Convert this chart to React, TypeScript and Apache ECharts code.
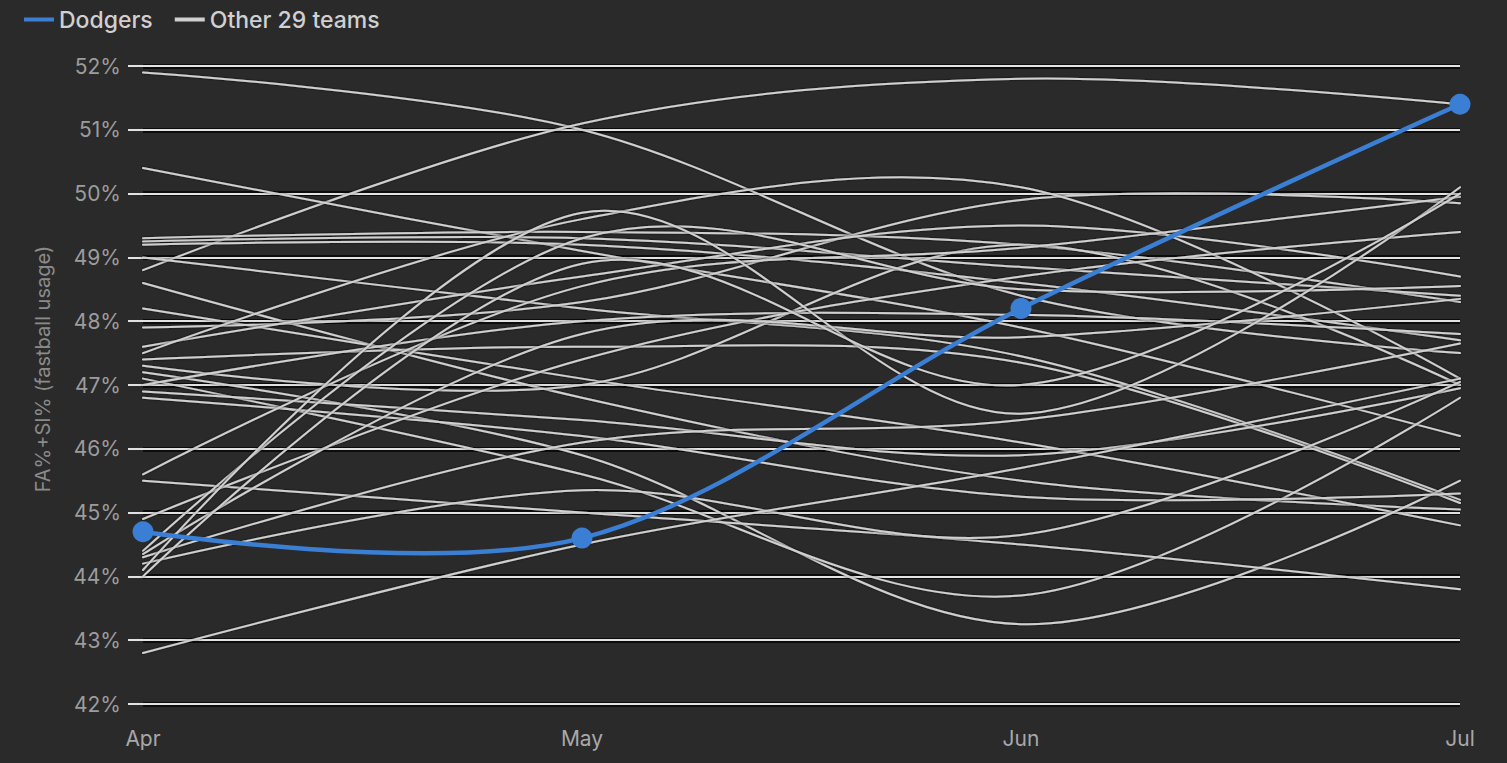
import React, { useEffect, useRef } from "react";
import * as echarts from "echarts";

const months = ["Apr", "May", "Jun", "Jul"];
const yTicks = [42, 43, 44, 45, 46, 47, 48, 49, 50, 51, 52];
const dodgers = [44.7, 44.6, 48.2, 51.4];

const team01 = [51.9, 51.0, 48.4, 47.5];
const team02 = [48.8, 51.1, 51.8, 51.4];
const team03 = [50.4, 49.1, 47.9, 46.2];
const team04 = [49.3, 49.4, 49.2, 48.3];
const team05 = [49.25, 49.3, 48.85, 48.4];
const team06 = [49.2, 49.2, 48.6, 47.7];
const team07 = [49.0, 48.2, 47.45, 45.2];
const team08 = [48.6, 46.8, 45.5, 45.05];
const team09 = [48.2, 47.1, 46.1, 44.8];
const team10 = [47.9, 48.3, 49.9, 49.85];
const team11 = [47.6, 48.7, 49.5, 48.7];
const team12 = [47.5, 49.6, 50.1, 47.1];
const team13 = [47.4, 47.6, 47.35, 45.15];
const team14 = [47.3, 47.0, 49.2, 47.0];
const team15 = [47.2, 45.9, 43.25, 45.5];
const team16 = [47.1, 45.6, 43.7, 46.8];
const team17 = [47.0, 48.0, 48.1, 47.8];
const team18 = [46.9, 46.45, 45.9, 46.95];
const team19 = [46.8, 46.2, 45.25, 45.3];
const team20 = [45.6, 48.55, 49.15, 49.95];
const team21 = [45.5, 45.0, 44.5, 43.8];
const team22 = [44.9, 47.4, 48.7, 49.4];
const team23 = [44.4, 49.3, 48.5, 48.55];
const team24 = [44.35, 47.8, 47.75, 48.35];
const team25 = [44.3, 46.1, 46.45, 47.65];
const team26 = [44.2, 45.35, 44.65, 47.05];
const team27 = [44.1, 49.7, 46.55, 50.1];
const team28 = [44.0, 48.9, 47.0, 50.0];
const team29 = [42.8, 44.5, 45.7, 47.1];

const others = [
  team01, team02, team03, team04, team05, team06, team07, team08, team09, team10,
  team11, team12, team13, team14, team15, team16, team17, team18, team19, team20,
  team21, team22, team23, team24, team25, team26, team27, team28, team29,
];

const BLUE = "#3b7fd4";
const GRAY = "#d0d0d0";
const FONT = "Inter, 'Roboto', sans-serif";

// Cardinal (Catmull-Rom, tension 0) curve through pixel points, d3-style ends.
function cardinalPath(pts: number[][]): string {
  const k = 1 / 6;
  const n = pts.length;
  let d = `M${pts[0][0]},${pts[0][1]}`;
  for (let i = 0; i < n - 1; i++) {
    const p0 = pts[Math.max(i - 1, 0)];
    const p1 = pts[i];
    const p2 = pts[i + 1];
    const p3 = pts[Math.min(i + 2, n - 1)];
    const c1x = i === 0 ? p1[0] : p1[0] + k * (p2[0] - p0[0]);
    const c1y = i === 0 ? p1[1] : p1[1] + k * (p2[1] - p0[1]);
    const c2x = i === n - 2 ? p2[0] : p2[0] - k * (p3[0] - p1[0]);
    const c2y = i === n - 2 ? p2[1] : p2[1] - k * (p3[1] - p1[1]);
    d += ` C${c1x},${c1y} ${c2x},${c2y} ${p2[0]},${p2[1]}`;
  }
  return d;
}

function curveSeries(name: string, values: number[], color: string, width: number, z: number, shadow: boolean) {
  return {
    name,
    type: "custom",
    coordinateSystem: "cartesian2d",
    xAxisIndex: 0,
    yAxisIndex: 0,
    data: values.map((v, j) => [j, v]),
    encode: { x: 0, y: 1 },
    itemStyle: { color },
    z,
    silent: true,
    renderItem: (params: any, api: any) => {
      if (params.dataIndex !== 0) return null;
      const pts = values.map((v, j) => api.coord([j, v]));
      return {
        type: "path",
        shape: { pathData: cardinalPath(pts) },
        style: {
          fill: "none",
          stroke: color,
          lineWidth: width,
          lineCap: "round",
          shadowColor: shadow ? "rgba(0,0,0,0.85)" : undefined,
          shadowBlur: shadow ? 2 : 0,
        },
      };
    },
  };
}

export default function App() {
  const ref = useRef<HTMLDivElement>(null);
  useEffect(() => {
    document.body.style.margin = "0";
    const chart = echarts.init(ref.current!, undefined, { renderer: "svg" });
    const otherSeries = others.map((d) =>
      curveSeries("Other 29 teams", d, GRAY, 2, 2, true)
    );
    chart.setOption({
      animation: false,
      backgroundColor: "#2a2a2a",
      legend: {
        left: 19,
        top: 3,
        itemWidth: 30,
        itemHeight: 4,
        itemGap: 22,
        icon: "rect",
        textStyle: {
          color: "#d0d0d0",
          fontSize: 23,
          fontFamily: FONT,
          fontWeight: 500,
        },
        data: [
          { name: "Dodgers", itemStyle: { color: BLUE } },
          { name: "Other 29 teams", itemStyle: { color: GRAY } },
        ],
      },
      grid: { left: 143, right: 47, top: 66, bottom: 59, containLabel: false },
      xAxis: {
        type: "category",
        data: months,
        boundaryGap: false,
        axisLine: { show: false },
        axisTick: { show: false },
        splitLine: { show: false },
        axisLabel: {
          color: "#a8a8a8",
          fontSize: 21,
          fontFamily: FONT,
          margin: 24,
        },
      },
      yAxis: [
        {
          type: "value",
          min: 42,
          max: 52,
          interval: 1,
          z: 1,
          name: "FA%+SI% (fastball usage)",
          nameLocation: "middle",
          nameGap: 90,
          nameRotate: 90,
          nameTextStyle: {
            color: "#8a8a8a",
            fontSize: 20,
            fontFamily: FONT,
            padding: [0, 0, 0, 32],
          },
          axisLine: { show: false },
          axisTick: {
            show: true,
            length: 15,
            lineStyle: { color: "#e2e2e2", width: 2 },
          },
          splitLine: {
            show: true,
            lineStyle: { color: "#e2e2e2", width: 2 },
          },
          axisLabel: {
            color: "#9c9c9c",
            fontSize: 21,
            fontFamily: FONT,
            margin: 22,
            formatter: (v: number) => (yTicks.includes(v) ? `${v}%` : ""),
          },
        },
        {
          type: "value",
          min: 42,
          max: 52,
          interval: 1,
          z: 0,
          position: "left",
          axisLine: { show: false },
          axisTick: { show: false },
          axisLabel: { show: false },
          splitLine: {
            show: true,
            lineStyle: { color: "#0c0c0c", width: 5 },
          },
        },
      ],
      series: [
        ...otherSeries,
        curveSeries("Dodgers", dodgers, BLUE, 4.5, 5, false),
        {
          name: "Dodgers",
          type: "scatter",
          data: dodgers,
          xAxisIndex: 0,
          yAxisIndex: 0,
          symbol: "circle",
          symbolSize: 21,
          itemStyle: { color: BLUE, opacity: 1 },
          emphasis: { disabled: true },
          silent: true,
          z: 6,
        },
      ],
    });
    return () => chart.dispose();
  }, []);
  return (
    <div
      ref={ref}
      style={{ position: "fixed", left: 0, top: 0, width: 1507, height: 763 }}
    />
  );
}
